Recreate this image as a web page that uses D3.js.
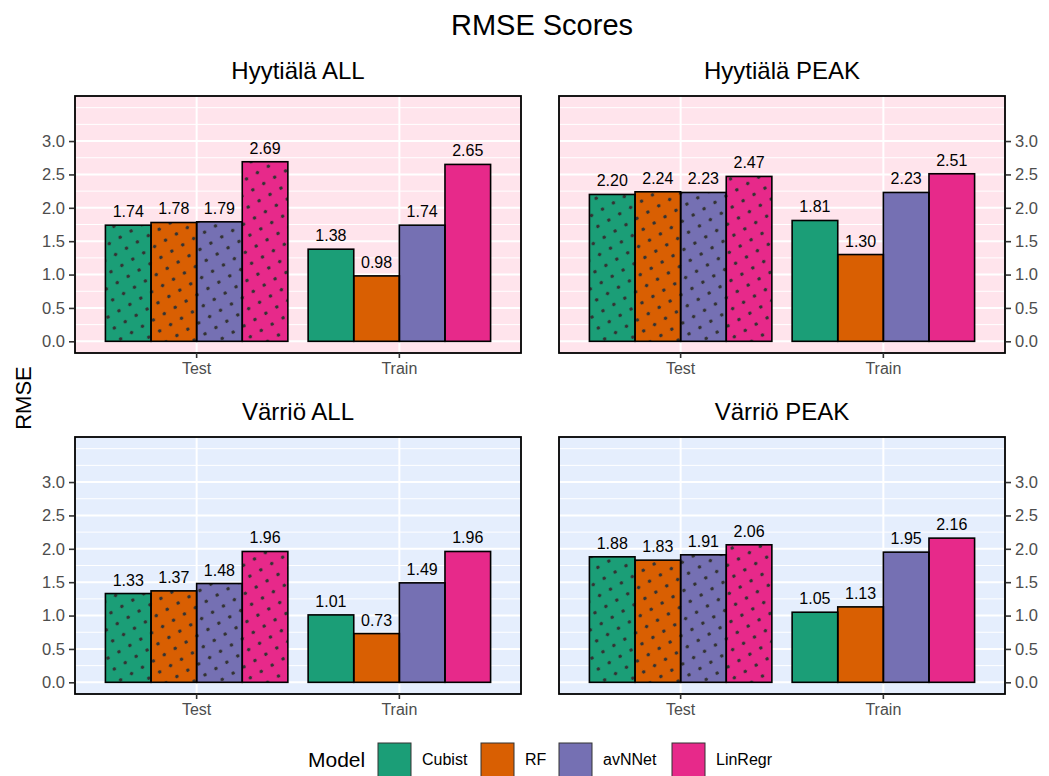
<!DOCTYPE html>
<html>
<head>
<meta charset="utf-8">
<script src="https://cdn.jsdelivr.net/npm/d3@7"></script>
<style>
  body { margin: 0; background: #fff; }
  svg { display: block; font-family: "Liberation Sans", Arial, Helvetica, sans-serif; }
</style>
</head>
<body>
<svg id="chart" width="1049" height="776"></svg>
<script>
// RMSE per model, split by data set (Test / Train), one panel per site + subset
const models = ["Cubist", "RF", "avNNet", "LinRegr"];
const sets = ["Test", "Train"];
const panelTitles = ["Hyytiälä ALL", "Hyytiälä PEAK", "Värriö ALL", "Värriö PEAK"];
const yTicks = [0, 0.5, 1.0, 1.5, 2.0, 2.5, 3.0];

const hyytialaAllTest  = [1.74, 1.78, 1.79, 2.69];
const hyytialaAllTrain = [1.38, 0.98, 1.74, 2.65];
const hyytialaPeakTest  = [2.20, 2.24, 2.23, 2.47];
const hyytialaPeakTrain = [1.81, 1.30, 2.23, 2.51];
const varrioAllTest  = [1.33, 1.37, 1.48, 1.96];
const varrioAllTrain = [1.01, 0.73, 1.49, 1.96];
const varrioPeakTest  = [1.88, 1.83, 1.91, 2.06];
const varrioPeakTrain = [1.05, 1.13, 1.95, 2.16];

const colors = ["#1B9E77", "#D95F02", "#7570B3", "#E7298A"];

const panels = [
  { title: panelTitles[0], test: hyytialaAllTest,  train: hyytialaAllTrain,  bg: "#FFE4EC", col: 0, row: 0 },
  { title: panelTitles[1], test: hyytialaPeakTest, train: hyytialaPeakTrain, bg: "#FFE4EC", col: 1, row: 0 },
  { title: panelTitles[2], test: varrioAllTest,  train: varrioAllTrain,  bg: "#E5EEFD", col: 0, row: 1 },
  { title: panelTitles[3], test: varrioPeakTest, train: varrioPeakTrain, bg: "#E5EEFD", col: 1, row: 1 }
];

const svg = d3.select("#chart");
const font = "\"Liberation Sans\", Arial, Helvetica, sans-serif";

// dotted fill used for the Test bars
const defs = svg.append("defs");
const pat = defs.append("pattern")
  .attr("id", "dots")
  .attr("patternUnits", "userSpaceOnUse")
  .attr("width", 12.6).attr("height", 12.6)
  .attr("patternTransform", "rotate(-30)");
pat.append("circle").attr("cx", 6.3).attr("cy", 6.3).attr("r", 1.8).attr("fill", "#333333");

const panelW = 446, panelH = 257;
const panelX = [75, 559];
const panelY = [96, 437];

// title
svg.append("text")
  .attr("x", 542).attr("y", 35)
  .attr("text-anchor", "middle")
  .attr("font-size", 29).attr("fill", "#000")
  .text("RMSE Scores");

// y axis title
svg.append("text")
  .attr("transform", "translate(31,398) rotate(-90)")
  .attr("text-anchor", "middle")
  .attr("font-size", 22).attr("fill", "#000")
  .text("RMSE");

panels.forEach(p => {
  const x0 = panelX[p.col], y0 = panelY[p.row];
  const g = svg.append("g").attr("transform", `translate(${x0},${y0})`);

  const y = d3.scaleLinear().domain([-0.175, 3.675]).range([panelH, 0]);
  // discrete axis: categories at 1 and 2 on a [0.4, 2.6] range
  const xc = d3.scaleLinear().domain([0.4, 2.6]).range([0, panelW]);
  const catPos = s => xc(sets.indexOf(s) + 1);
  const xm = d3.scaleBand().domain(models).range([-0.45, 0.45]);
  const unit = xc(1) - xc(0);

  // background
  g.append("rect").attr("width", panelW).attr("height", panelH).attr("fill", p.bg);

  // grid: minor every 0.25, major at labelled breaks
  const minor = d3.range(0.25, 3.51, 0.5);
  g.selectAll(".minor").data(minor).join("line")
    .attr("x1", 0).attr("x2", panelW)
    .attr("y1", d => y(d)).attr("y2", d => y(d))
    .attr("stroke", "#fff").attr("stroke-width", 1);
  g.selectAll(".major").data(yTicks).join("line")
    .attr("x1", 0).attr("x2", panelW)
    .attr("y1", d => y(d)).attr("y2", d => y(d))
    .attr("stroke", "#fff").attr("stroke-width", 2);
  g.append("line").attr("x1", 0).attr("x2", panelW)
    .attr("y1", y(3.5)).attr("y2", y(3.5))
    .attr("stroke", "#fff").attr("stroke-width", 1);
  g.selectAll(".vgrid").data(sets).join("line")
    .attr("x1", d => catPos(d)).attr("x2", d => catPos(d))
    .attr("y1", 0).attr("y2", panelH)
    .attr("stroke", "#fff").attr("stroke-width", 2);

  // bars
  const rows = [];
  sets.forEach(s => {
    const vals = s === "Test" ? p.test : p.train;
    models.forEach((m, i) => rows.push({ set: s, model: m, value: vals[i], i }));
  });
  const bx = d => catPos(d.set) + xm(d.model) * unit;
  const bw = xm.bandwidth() * unit;

  g.selectAll(".bar").data(rows).join("rect")
    .attr("x", bx).attr("width", bw)
    .attr("y", d => y(d.value)).attr("height", d => y(0) - y(d.value))
    .attr("fill", d => colors[d.i]);
  g.selectAll(".barpat").data(rows.filter(d => d.set === "Test")).join("rect")
    .attr("x", bx).attr("width", bw)
    .attr("y", d => y(d.value)).attr("height", d => y(0) - y(d.value))
    .attr("fill", "url(#dots)");
  g.selectAll(".barout").data(rows).join("rect")
    .attr("x", bx).attr("width", bw)
    .attr("y", d => y(d.value)).attr("height", d => y(0) - y(d.value))
    .attr("fill", "none").attr("stroke", "#000").attr("stroke-width", 1.6);

  // value labels
  g.selectAll(".lab").data(rows).join("text")
    .attr("x", d => bx(d) + bw / 2)
    .attr("y", d => y(d.value) - 8)
    .attr("text-anchor", "middle")
    .attr("font-size", 16).attr("fill", "#000")
    .text(d => d.value.toFixed(2));

  // panel border
  g.append("rect").attr("width", panelW).attr("height", panelH)
    .attr("fill", "none").attr("stroke", "#000").attr("stroke-width", 1.8);

  // x axis
  const xAxis = g.append("g").attr("transform", `translate(0,${panelH})`);
  sets.forEach(s => {
    xAxis.append("line").attr("x1", catPos(s)).attr("x2", catPos(s))
      .attr("y1", 0).attr("y2", 5).attr("stroke", "#333").attr("stroke-width", 1.6);
    xAxis.append("text").attr("x", catPos(s)).attr("y", 21)
      .attr("text-anchor", "middle").attr("font-size", 16).attr("fill", "#4D4D4D")
      .text(s);
  });

  // y axis, left for left column, right for right column
  const axis = p.col === 0 ? d3.axisLeft(y) : d3.axisRight(y);
  axis.tickValues(yTicks).tickFormat(d3.format(".1f")).tickSize(5).tickPadding(4);
  const ya = g.append("g")
    .attr("transform", p.col === 0 ? "translate(-1,0)" : `translate(${panelW + 1},0)`)
    .call(axis);
  ya.select(".domain").remove();
  ya.selectAll(".tick line").attr("stroke", "#333").attr("stroke-width", 1.6);
  ya.selectAll(".tick text").attr("font-size", 16.5).attr("fill", "#4D4D4D")
    .attr("font-family", font);

  // strip title
  g.append("text").attr("x", panelW / 2).attr("y", -17)
    .attr("text-anchor", "middle").attr("font-size", 24).attr("fill", "#000")
    .text(p.title);
});

// legend
const legend = svg.append("g");
legend.append("text").attr("x", 308).attr("y", 767)
  .attr("font-size", 21).attr("fill", "#000").text("Model");
const keyX = [378, 481, 559, 672];
models.forEach((m, i) => {
  legend.append("rect").attr("x", keyX[i]).attr("y", 743).attr("width", 33).attr("height", 34)
    .attr("fill", colors[i]).attr("stroke", "#333").attr("stroke-width", 1);
  legend.append("text").attr("x", keyX[i] + 44).attr("y", 765)
    .attr("font-size", 16).attr("fill", "#000").text(m);
});
</script>
</body>
</html>
